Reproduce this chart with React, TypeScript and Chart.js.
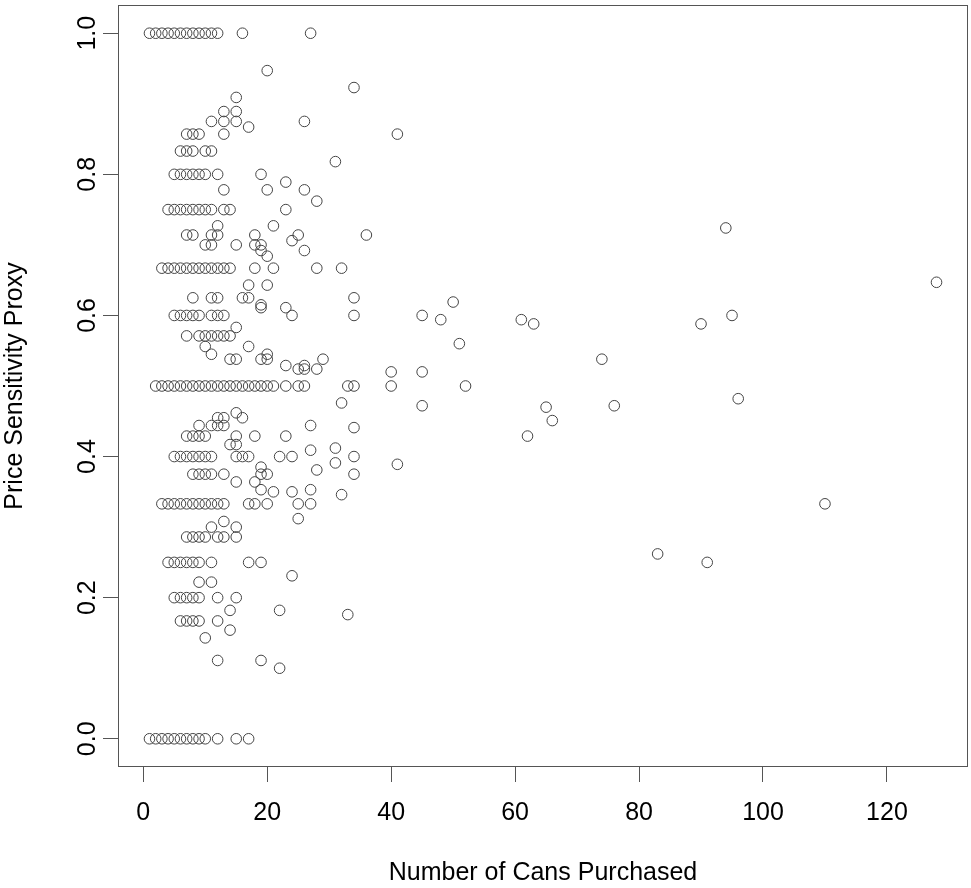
import { useEffect, useRef } from "react";
import { Chart, registerables } from "chart.js";

Chart.register(...registerables);

// Price-sensitivity levels (y) and the can counts (x) observed at each level
const sensitivityLevels = [
  1.0, 0.947, 0.923, 0.909, 0.889, 0.875, 0.867, 0.857, 0.833, 0.818,
  0.8, 0.789, 0.778, 0.762, 0.75, 0.727, 0.724, 0.714, 0.706, 0.7,
  0.692, 0.684, 0.667, 0.647, 0.643, 0.625, 0.619, 0.615, 0.611, 0.6,
  0.594, 0.588, 0.583, 0.571, 0.56, 0.556, 0.545, 0.538, 0.529, 0.524,
  0.52, 0.5, 0.482, 0.476, 0.472, 0.47, 0.462, 0.455, 0.451, 0.444,
  0.441, 0.429, 0.417, 0.412, 0.409, 0.4, 0.391, 0.389, 0.385, 0.381,
  0.375, 0.364, 0.353, 0.35, 0.346, 0.333, 0.312, 0.308, 0.3, 0.286,
  0.262, 0.25, 0.231, 0.222, 0.2, 0.182, 0.176, 0.167, 0.154, 0.143,
  0.111, 0.1, 0.0,
];

const cansAtLevel: number[][] = [
  [1, 2, 3, 4, 5, 6, 7, 8, 9, 10, 11, 12, 16, 27], // 1.0
  [20], // 0.947
  [34], // 0.923
  [15], // 0.909
  [13, 15], // 0.889
  [11, 13, 15, 26], // 0.875
  [17], // 0.867
  [7, 8, 9, 13, 41], // 0.857
  [6, 7, 8, 10, 11], // 0.833
  [31], // 0.818
  [5, 6, 7, 8, 9, 10, 12, 19], // 0.8
  [23], // 0.789
  [13, 20, 26], // 0.778
  [28], // 0.762
  [4, 5, 6, 7, 8, 9, 10, 11, 13, 14, 23], // 0.75
  [12, 21], // 0.727
  [94], // 0.724
  [7, 8, 11, 12, 18, 25, 36], // 0.714
  [24], // 0.706
  [10, 11, 15, 18, 19], // 0.7
  [19, 26], // 0.692
  [20], // 0.684
  [3, 4, 5, 6, 7, 8, 9, 10, 11, 12, 13, 14, 18, 21, 28, 32], // 0.667
  [128], // 0.647
  [17, 20], // 0.643
  [8, 11, 12, 16, 17, 34], // 0.625
  [50], // 0.619
  [19], // 0.615
  [19, 23], // 0.611
  [5, 6, 7, 8, 9, 11, 12, 13, 24, 34, 45, 95], // 0.6
  [48, 61], // 0.594
  [63, 90], // 0.588
  [15], // 0.583
  [7, 9, 10, 11, 12, 13, 14], // 0.571
  [51], // 0.56
  [10, 17], // 0.556
  [11, 20], // 0.545
  [14, 15, 19, 20, 29, 74], // 0.538
  [23, 26], // 0.529
  [25, 26, 28], // 0.524
  [40, 45], // 0.52
  [2, 3, 4, 5, 6, 7, 8, 9, 10, 11, 12, 13, 14, 15, 16, 17, 18, 19, 20, 21, 23, 25, 26, 33, 34, 40, 52], // 0.5
  [96], // 0.482
  [32], // 0.476
  [45, 76], // 0.472
  [65], // 0.47
  [15], // 0.462
  [12, 13, 16], // 0.455
  [66], // 0.451
  [9, 11, 12, 13, 27], // 0.444
  [34], // 0.441
  [7, 8, 9, 10, 15, 18, 23, 62], // 0.429
  [14, 15], // 0.417
  [31], // 0.412
  [27], // 0.409
  [5, 6, 7, 8, 9, 10, 11, 15, 16, 17, 22, 24, 34], // 0.4
  [31], // 0.391
  [41], // 0.389
  [19], // 0.385
  [28], // 0.381
  [8, 9, 10, 11, 13, 19, 20, 34], // 0.375
  [15, 18], // 0.364
  [19, 27], // 0.353
  [21, 24], // 0.35
  [32], // 0.346
  [3, 4, 5, 6, 7, 8, 9, 10, 11, 12, 13, 17, 18, 20, 25, 27, 110], // 0.333
  [25], // 0.312
  [13], // 0.308
  [11, 15], // 0.3
  [7, 8, 9, 10, 12, 13, 15], // 0.286
  [83], // 0.262
  [4, 5, 6, 7, 8, 9, 11, 17, 19, 91], // 0.25
  [24], // 0.231
  [9, 11], // 0.222
  [5, 6, 7, 8, 9, 12, 15], // 0.2
  [14, 22], // 0.182
  [33], // 0.176
  [6, 7, 8, 9, 12], // 0.167
  [14], // 0.154
  [10], // 0.143
  [12, 19], // 0.111
  [22], // 0.1
  [1, 2, 3, 4, 5, 6, 7, 8, 9, 10, 12, 15, 17], // 0.0
];

const xTickValues = [0, 20, 40, 60, 80, 100, 120];
const yTickValues = [0, 0.2, 0.4, 0.6, 0.8, 1.0];
const xTitle = "Number of Cans Purchased";
const yTitle = "Price Sensitivity Proxy";

const FONT = "'Liberation Sans', Arial, Helvetica, sans-serif";
const LINE = "#555555";

const points = sensitivityLevels.flatMap((s, i) =>
  cansAtLevel[i].map((c) => ({ x: c, y: s }))
);

// R-style 4% axis extension around the data range
const xs = points.map((p) => p.x);
const ys = points.map((p) => p.y);
const xMinD = Math.min(...xs);
const xMaxD = Math.max(...xs);
const yMinD = Math.min(...ys);
const yMaxD = Math.max(...ys);
const xPad = (xMaxD - xMinD) * 0.04;
const yPad = (yMaxD - yMinD) * 0.04;

const boxPlugin = {
  id: "plotBox",
  afterDraw(chart: any) {
    const { ctx, chartArea } = chart;
    const { left, top, right, bottom } = chartArea;
    ctx.save();
    ctx.strokeStyle = LINE;
    ctx.lineWidth = 1;
    ctx.strokeRect(left + 0.5, top + 0.5, right - left - 1, bottom - top - 1);
    ctx.restore();
  },
};

export default function App() {
  const canvasRef = useRef<HTMLCanvasElement | null>(null);

  useEffect(() => {
    if (!canvasRef.current) return;
    const chart = new Chart(canvasRef.current, {
      type: "scatter",
      data: {
        datasets: [
          {
            data: points,
            pointStyle: "circle",
            pointRadius: 5.3,
            pointHoverRadius: 5.3,
            pointBorderWidth: 1,
            borderColor: "#444444",
            backgroundColor: "rgba(0,0,0,0)",
            showLine: false,
          },
        ],
      },
      options: {
        responsive: false,
        animation: false,
        devicePixelRatio: 1,
        events: [],
        layout: { autoPadding: false, padding: { top: 5, right: 3, left: 0, bottom: 0 } },
        plugins: {
          legend: { display: false },
          tooltip: { enabled: false },
          title: { display: false },
        },
        scales: {
          x: {
            type: "linear",
            min: xMinD - xPad,
            max: xMaxD + xPad,
            afterBuildTicks: (s: any) => {
              s.ticks = xTickValues.map((value) => ({ value }));
            },
            afterFit: (s: any) => {
              s.height = 121;
              s.paddingLeft = 0;
              s.paddingRight = 0;
            },
            grid: {
              display: true,
              drawOnChartArea: false,
              drawTicks: true,
              tickLength: 15,
              color: LINE,
              lineWidth: 1,
            },
            border: { display: false },
            ticks: {
              autoSkip: false,
              maxRotation: 0,
              minRotation: 0,
              padding: 16,
              color: "#000",
              font: { family: FONT, size: 25 },
              callback: (v: any) => String(v),
            },
            title: {
              display: true,
              text: xTitle,
              color: "#000",
              font: { family: FONT, size: 25 },
              padding: { top: 0, bottom: 0 },
            },
          },
          y: {
            type: "linear",
            min: yMinD - yPad,
            max: yMaxD + yPad,
            afterBuildTicks: (s: any) => {
              s.ticks = yTickValues.map((value) => ({ value }));
            },
            afterFit: (s: any) => {
              s.width = 118;
              s.paddingTop = 0;
              s.paddingBottom = 0;
            },
            grid: {
              display: true,
              drawOnChartArea: false,
              drawTicks: true,
              tickLength: 15,
              color: LINE,
              lineWidth: 1,
            },
            border: { display: false },
            ticks: {
              autoSkip: false,
              minRotation: 90,
              maxRotation: 90,
              crossAlign: "center",
              padding: -2,
              color: "#000",
              font: { family: FONT, size: 25 },
              callback: (v: any) => Number(v).toFixed(1),
            },
            title: {
              display: true,
              text: yTitle,
              color: "#000",
              font: { family: FONT, size: 25 },
              padding: { top: 0, bottom: 0 },
            },
          },
        },
      },
      plugins: [boxPlugin],
    } as any);
    return () => chart.destroy();
  }, []);

  return (
    <div style={{ position: "absolute", left: 0, top: 0, width: 971, height: 888, background: "#fff" }}>
      <canvas ref={canvasRef} width={971} height={888} style={{ display: "block" }} />
    </div>
  );
}
